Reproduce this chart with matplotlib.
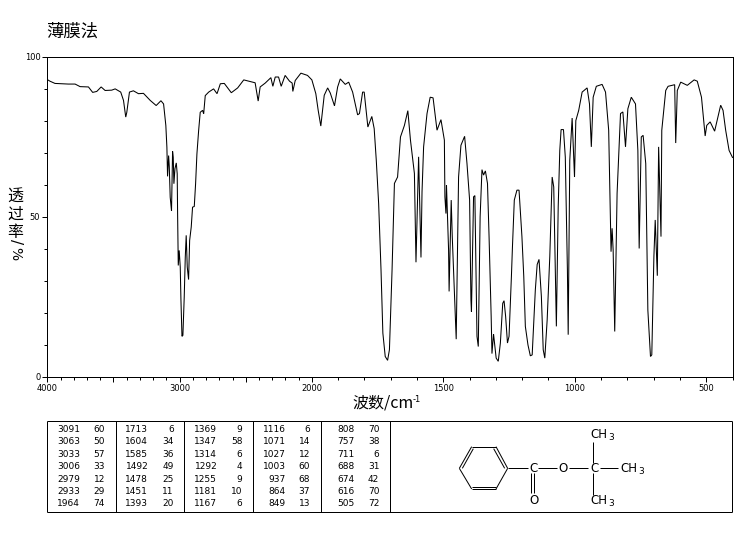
import numpy as np
import matplotlib
matplotlib.use('Agg')
import matplotlib.pyplot as plt

plt.rcParams['font.family'] = ['DejaVu Sans', 'Noto Sans CJK SC']

# spectrum
wavenumber = [
    4000, 3980, 3942, 3891, 3841, 3790, 3752, 3689, 3657, 3626, 3593, 3563, 3513, 3487, 3445, 3424,
    3407, 3399, 3379, 3349, 3311, 3273, 3222, 3177, 3141, 3121, 3104, 3096, 3091, 3083, 3078, 3071,
    3061, 3053, 3048, 3043, 3035, 3025, 3018, 3015, 3010, 3003, 2995, 2990, 2982, 2975, 2965, 2957,
    2950, 2942, 2932, 2924, 2912, 2902, 2889, 2879, 2869, 2856, 2844, 2826, 2818, 2806, 2780, 2743,
    2717, 2692, 2662, 2609, 2561, 2515, 2477, 2429, 2406, 2391, 2353, 2310, 2295, 2277, 2252, 2232,
    2202, 2169, 2149, 2144, 2126, 2083, 2033, 2000, 1985, 1976, 1966, 1953, 1940, 1930, 1914, 1902,
    1892, 1873, 1860, 1845, 1826, 1819, 1807, 1801, 1787, 1772, 1763, 1755, 1746, 1737, 1730, 1721,
    1712, 1705, 1695, 1686, 1674, 1663, 1648, 1635, 1625, 1610, 1604, 1594, 1590, 1585, 1581, 1575,
    1562, 1550, 1539, 1524, 1509, 1496, 1494, 1490, 1488, 1480, 1478, 1470, 1466, 1451, 1442, 1433,
    1419, 1410, 1400, 1395, 1393, 1385, 1380, 1372, 1367, 1360, 1353, 1347, 1340, 1332, 1326, 1318,
    1315, 1309, 1299, 1291, 1283, 1274, 1269, 1263, 1256, 1250, 1241, 1237, 1230, 1220, 1212, 1201,
    1194, 1188, 1178, 1169, 1162, 1150, 1143, 1136, 1127, 1120, 1114, 1105, 1095, 1086, 1080, 1070,
    1063, 1057, 1052, 1043, 1036, 1028, 1025, 1019, 1010, 1001, 996, 985, 972, 953, 944, 937,
    930, 918, 896, 883, 871, 862, 858, 854, 848, 839, 826, 817, 807, 798, 785, 769,
    760, 755, 747, 740, 730, 722, 712, 707, 699, 694, 686, 681, 672, 669, 654, 645,
    620, 616, 610, 597, 572, 546, 534, 518, 504, 498, 485, 468, 445, 436, 426, 413, 400,
]
transmittance = [
    92.8, 92.3, 91.6, 91.5, 91.4, 91.4, 90.6, 90.5, 88.8, 89.1, 90.5, 89.4, 89.5, 89.9, 88.9, 86.3,
    81.1, 82.6, 88.9, 89.3, 88.4, 88.5, 86.3, 84.7, 86.2, 85.2, 78.5, 71.7, 62.6, 69.1, 65.7, 56.1,
    51.8, 70.4, 68.6, 60.3, 65.0, 66.8, 63.4, 50.9, 34.8, 39.5, 34.3, 24.4, 12.7, 13.0, 24.9, 37.4,
    44.2, 34.3, 30.4, 42.6, 46.8, 53.0, 53.2, 60.3, 69.6, 76.9, 82.6, 83.2, 82.1, 87.8, 88.9, 89.9,
    88.4, 91.5, 91.6, 88.7, 90.2, 92.7, 92.3, 91.8, 86.1, 90.5, 91.7, 93.4, 90.7, 93.6, 93.6, 90.7,
    94.1, 92.3, 91.7, 89.1, 92.5, 94.8, 94.1, 92.7, 88.4, 83.2, 78.3, 87.9, 90.2, 88.6, 84.6, 90.5,
    93.0, 91.3, 92.0, 88.9, 81.8, 82.2, 88.9, 88.9, 78.0, 81.3, 77.5, 67.6, 54.1, 33.4, 13.7, 6.4,
    5.2, 8.5, 33.4, 60.4, 62.4, 74.9, 78.5, 83.1, 73.9, 63.5, 35.8, 68.7, 54.1, 37.3, 57.8, 71.8,
    82.2, 87.3, 87.1, 77.0, 80.3, 73.9, 56.2, 51.0, 59.9, 39.6, 26.7, 55.2, 43.8, 11.8, 62.4, 72.3,
    75.1, 66.6, 55.2, 24.1, 20.4, 56.2, 56.6, 12.7, 9.5, 50.0, 64.7, 63.0, 64.3, 60.4, 43.8, 18.9,
    7.3, 13.4, 5.9, 4.9, 10.6, 23.0, 23.8, 18.9, 10.6, 12.7, 31.4, 40.7, 55.2, 58.3, 58.3, 43.8,
    31.4, 15.8, 10.0, 6.6, 6.9, 27.2, 35.1, 36.7, 25.1, 8.5, 5.9, 17.8, 37.6, 62.4, 59.3, 15.8,
    53.1, 70.7, 77.2, 77.2, 68.6, 33.4, 13.2, 67.6, 80.8, 62.4, 80.0, 83.2, 88.9, 90.2, 85.2, 71.8,
    87.3, 90.7, 91.3, 88.9, 77.0, 39.1, 46.4, 39.6, 14.2, 57.3, 82.2, 82.7, 71.8, 83.7, 87.3, 85.2,
    70.7, 40.1, 74.9, 75.4, 66.6, 20.9, 6.4, 6.9, 37.6, 49.0, 31.6, 71.8, 43.8, 77.0, 89.4, 90.7,
    91.2, 73.0, 89.4, 92.0, 91.0, 92.7, 92.3, 87.3, 75.2, 78.5, 79.6, 76.7, 84.8, 83.2, 77.0, 70.7, 68.5,
]

# peak table, one list per column
peak_wn = [
    [3091, 3063, 3033, 3006, 2979, 2933, 1964],
    [1713, 1604, 1585, 1492, 1478, 1451, 1393],
    [1369, 1347, 1314, 1292, 1255, 1181, 1167],
    [1116, 1071, 1027, 1003, 937, 864, 849],
    [808, 757, 711, 688, 674, 616, 505],
]
peak_t = [
    [60, 50, 57, 33, 12, 29, 74],
    [6, 34, 36, 49, 25, 11, 20],
    [9, 58, 6, 4, 9, 10, 6],
    [6, 14, 12, 60, 68, 37, 13],
    [70, 38, 6, 31, 42, 70, 72],
]

major_x = [4000, 3500, 3000, 2500, 2000, 1500, 1000, 500]
x_labels = ['4000', '', '3000', '', '2000', '1500', '1000', '500']
minor_x = np.arange(400, 4000, 100)
major_y = [0, 50, 100]
minor_y = np.arange(0, 100, 10)

W, H = 748, 539
fig = plt.figure(figsize=(W / 100, H / 100), dpi=100)
px = 0.72  # one pixel in points

# the wavenumber axis changes scale at 2000
def fwd(w):
    return np.interp(w, [400, 2000, 4000], [685.0, 264.5, 0.0])

def inv(p):
    return np.interp(p, [0.0, 264.5, 685.0], [4000, 2000, 400])

ax = fig.add_axes([47.3 / W, 1 - 377 / H, 685.2 / W, 320.5 / H])
ax.set_xscale('function', functions=(lambda w: -fwd(w), lambda p: inv(-p)))
ax.plot(wavenumber, transmittance, color='k', lw=0.75, antialiased=True, solid_joinstyle='miter')
ax.set_xlim(4000, 400)
ax.set_ylim(0, 100)
ax.set_xticks(major_x)
ax.set_xticklabels(x_labels)
ax.set_xticks(minor_x, minor=True)
ax.set_yticks(major_y)
ax.set_yticks(minor_y, minor=True)
ax.tick_params(which='major', length=3.5, width=px, labelsize=6, pad=1.5)
ax.tick_params(which='minor', length=2, width=px)
for s in ax.spines.values():
    s.set_linewidth(px)

# overlay in pixel coordinates for the table, structure and labels
ov = fig.add_axes([0, 0, 1, 1])
ov.set_xlim(0, W)
ov.set_ylim(H, 0)
ov.axis('off')

def seg(x0, y0, x1, y1):
    ov.plot([x0, x1], [y0, y1], color='k', lw=px, solid_capstyle='butt')

def zseg(x0, y0, x1, y1):
    # coordinates as measured on the structure crop
    seg(390 + x0 / 3, 410 + y0 / 3, 390 + x1 / 3, 410 + y1 / 3)

cjk = ['Noto Sans CJK SC', 'DejaVu Sans']
ov.text(46, 32, '薄膜法', fontsize=12.5, family=cjk, ha='left', va='center')
for i, ch in enumerate('透过率'):
    ov.text(15, 197 + i * 17.5, ch, fontsize=11.5, family=cjk, fontweight='medium', ha='center', va='center')
ov.text(15, 242, '/', fontsize=11, rotation=-90, ha='center', va='center')
ov.text(15, 254, '%', fontsize=10, rotation=-90, ha='center', va='center')
ov.text(352, 403, '波数/cm', fontsize=11.5, family=cjk, fontweight='medium', ha='left', va='center')
ov.text(413, 399, '-1', fontsize=6, ha='left', va='center')

# peak table
dividers = [116.3, 184.3, 253.3, 321.3, 390.3]
for x in [47.3] + dividers + [732.3]:
    seg(x, 420.7, x, 512)
seg(47.3, 420.7, 732.3, 420.7)
seg(47.3, 512, 732.3, 512)

row_y = [429.7, 442, 454.7, 466.7, 479.3, 491.7, 504]
wn_right = [80, 148.3, 217.3, 285.7, 354.3]
t_right = [105, 173.7, 242.3, 310, 379.3]
for c in range(5):
    for r, y in enumerate(row_y):
        ov.text(wn_right[c], y, str(peak_wn[c][r]), fontsize=6.5, ha='right', va='center')
        ov.text(t_right[c], y, str(peak_t[c][r]), fontsize=6.5, ha='right', va='center')

# structure
ring = [(208, 175), (245, 110), (318, 110), (353, 175), (318, 237), (245, 237), (208, 175)]
for a, b in zip(ring[:-1], ring[1:]):
    zseg(a[0], a[1], b[0], b[1])
zseg(217, 175, 250, 116)
zseg(311, 116, 344, 175)
zseg(245, 230, 318, 230)
zseg(353, 175, 415, 175)
zseg(445, 175, 500, 175)
zseg(537, 175, 595, 175)
zseg(630, 175, 685, 175)
zseg(608, 95, 608, 160)
zseg(608, 190, 608, 255)
zseg(424, 190, 424, 250)
zseg(431, 190, 431, 250)

for zx, zy, s in [(430, 175, 'C'), (520, 175, 'O'), (613, 175, 'C'), (431, 272, 'O')]:
    ov.text(390 + zx / 3, 410 + zy / 3, s, fontsize=8.5, ha='center', va='center')
for zx, zy in [(602, 75), (692, 177), (602, 272)]:
    ov.text(390 + zx / 3, 410 + zy / 3, 'CH', fontsize=8.5, ha='left', va='center')
    ov.text(390 + (zx + 54) / 3, 410 + (zy + 8) / 3, '3', fontsize=6.5, ha='left', va='center')

fig.savefig('out.png', dpi=100)
